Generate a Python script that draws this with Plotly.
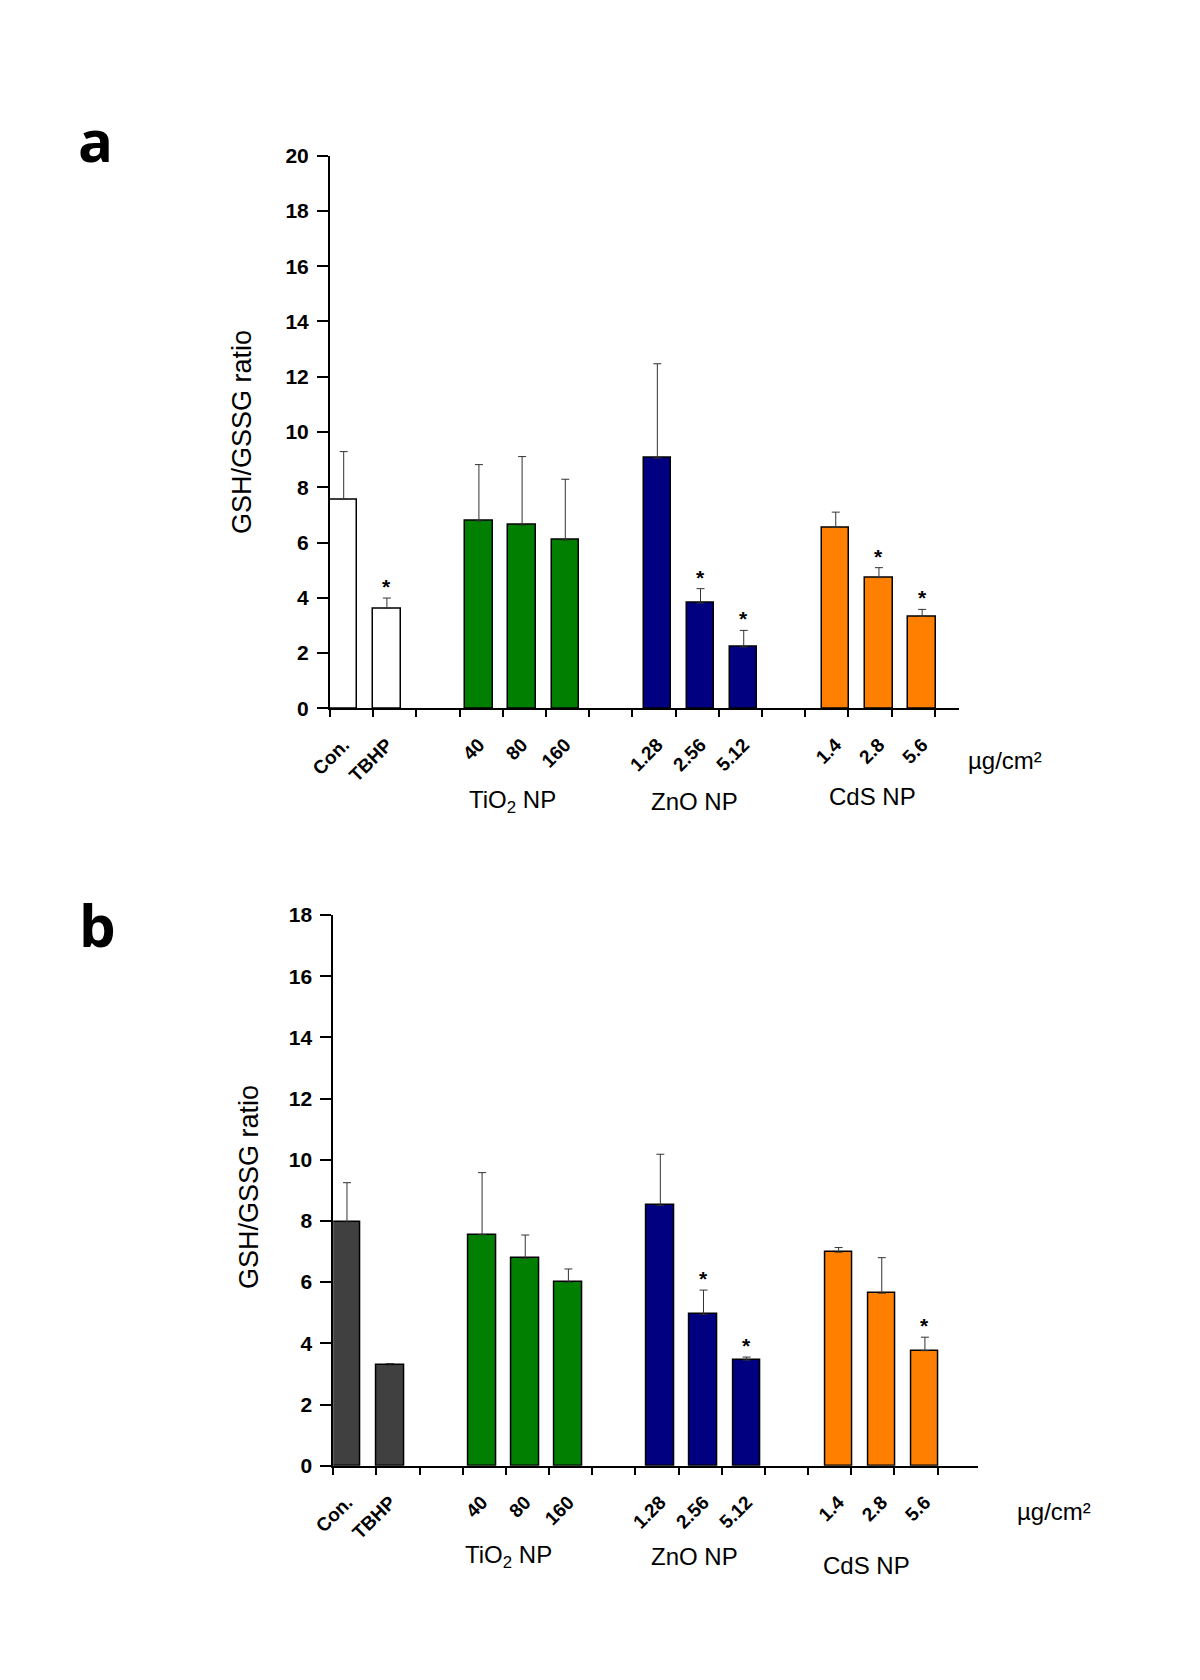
import plotly.graph_objects as go

# ---------------- data ----------------
categories = ["Con.", "TBHP", "40", "80", "160", "1.28", "2.56", "5.12", "1.4", "2.8", "5.6"]
group_of = [0, 0, 1, 1, 1, 2, 2, 2, 3, 3, 3]
group_names = ["TiO<sub>2</sub> NP", "ZnO NP", "CdS NP"]
unit_label = "µg/cm²"
y_title = "GSH/GSSG ratio"

a_mean = [7.56, 3.62, 6.78, 6.63, 6.09, 9.06, 3.81, 2.22, 6.55, 4.73, 3.33]
a_err = [1.73, 0.37, 2.04, 2.48, 2.20, 3.41, 0.52, 0.60, 0.55, 0.36, 0.25]
a_sig = [0, 1, 0, 0, 0, 0, 1, 1, 0, 1, 1]

b_mean = [7.96, 3.28, 7.55, 6.78, 6.00, 8.51, 4.95, 3.45, 6.98, 5.64, 3.76]
b_err = [1.29, 0.06, 2.03, 0.76, 0.43, 1.67, 0.79, 0.10, 0.15, 1.16, 0.44]
b_sig = [0, 0, 0, 0, 0, 0, 1, 1, 0, 0, 1]

# ---------------- styles ----------------
W, H = 1200, 1680
OFF = 8  # page body margin in front of the figure
FONT = "Liberation Sans, Arial, sans-serif"
group_colors = ["#007F00", "#000080", "#FF8000"]
control_color_a = "#FFFFFF"
control_color_b = "#404040"

# bar positions (in tick units): 1 unit per bar, extra gap between groups
x_pos = [0.317 + i + g * 1.13 for i, g in enumerate(group_of)]
bar_w = 0.636


def colors_for(control):
    return [control if g == 0 else group_colors[g - 1] for g in group_of]


def px(x):
    return (x - OFF) / W


def py(y):
    return 1 - (y - OFF) / H


panels = [
    dict(mean=a_mean, err=a_err, sig=a_sig, ctrl=control_color_a, ymax=20,
         xdom=[px(330), px(959)], ydom=[py(708.3), py(155.7)], xmax=14.56,
         xs="x", ys="y", label="a", label_pos=(95, 140), ytitle_pos=(242, 432),
         groups=[(512, 801), (694, 801), (872, 796)], unit_pos=(1005, 761)),
    dict(mean=b_mean, err=b_err, sig=b_sig, ctrl=control_color_b, ymax=18,
         xdom=[px(333.3), px(977.7)], ydom=[py(1465.7), py(915)], xmax=14.93,
         xs="x2", ys="y2", label="b", label_pos=(97, 925), ytitle_pos=(249, 1187),
         groups=[(508, 1556), (694, 1556), (866, 1565)], unit_pos=(1054, 1511)),
]

fig = go.Figure()
annotations = []

for k, p in enumerate(panels):
    fig.add_trace(go.Bar(
        x=x_pos, y=p["mean"], width=bar_w,
        marker=dict(color=colors_for(p["ctrl"]), line=dict(color="black", width=1.5)),
        error_y=dict(type="data", symmetric=False, array=p["err"],
                     arrayminus=[0] * len(p["err"]), color="#333333",
                     thickness=1, width=4),
        xaxis=p["xs"], yaxis=p["ys"], showlegend=False,
    ))
    suffix = "" if k == 0 else "2"
    fig.update_layout(**{
        "xaxis" + suffix: dict(
            domain=p["xdom"], anchor=p["ys"], range=[0, p["xmax"]], automargin=False,
            showline=True, linecolor="black", linewidth=2, showgrid=False,
            zeroline=False, tickmode="array", tickvals=x_pos, ticktext=categories,
            tickangle=-45, ticks="", ticklabelstandoff=16,
            tickfont=dict(family=FONT, size=19, color="black", weight="bold"),
            minor=dict(tickmode="array", tickvals=list(range(15)), ticks="outside",
                       ticklen=7, tickwidth=2, tickcolor="black", showgrid=False),
        ),
        "yaxis" + suffix: dict(
            domain=p["ydom"], anchor=p["xs"], range=[0, p["ymax"]], automargin=False,
            showline=True, linecolor="black", linewidth=2, showgrid=False,
            zeroline=False, tickmode="linear", tick0=0, dtick=2,
            ticks="outside", ticklen=11, tickwidth=2, tickcolor="black",
            ticklabelstandoff=4,
            tickfont=dict(family=FONT, size=21, color="black", weight="bold"),
        ),
    })
    # significance stars
    for xi, m, e, s in zip(x_pos, p["mean"], p["err"], p["sig"]):
        if s:
            annotations.append(dict(
                x=xi, y=m + e, xref=p["xs"], yref=p["ys"], text="*",
                showarrow=False, yanchor="bottom", yshift=-2,
                font=dict(family=FONT, size=21, color="black", weight="bold")))
    # y title
    annotations.append(dict(
        x=px(p["ytitle_pos"][0]), y=py(p["ytitle_pos"][1]), xref="paper", yref="paper",
        text=y_title, textangle=-90, showarrow=False, xanchor="center", yanchor="middle",
        font=dict(family=FONT, size=27, color="black")))
    # group labels
    for name, (gx, gy) in zip(group_names, p["groups"]):
        annotations.append(dict(
            x=px(gx), y=py(gy), xref="paper", yref="paper", text=name,
            showarrow=False, xanchor="center", yanchor="middle",
            font=dict(family=FONT, size=24, color="black")))
    annotations.append(dict(
        x=px(p["unit_pos"][0]), y=py(p["unit_pos"][1]), xref="paper", yref="paper",
        text=unit_label, showarrow=False, xanchor="center", yanchor="middle",
        font=dict(family=FONT, size=24, color="black")))
    # panel letter
    annotations.append(dict(
        x=px(p["label_pos"][0]), y=py(p["label_pos"][1]), xref="paper", yref="paper",
        text=p["label"], showarrow=False, xanchor="center", yanchor="middle",
        font=dict(family="Open Sans, sans-serif", size=58, color="black", weight="bold")))

fig.update_layout(
    width=W, height=H, margin=dict(l=0, r=0, t=0, b=0, autoexpand=False),
    paper_bgcolor="white", plot_bgcolor="white",
    annotations=annotations, bargap=0,
)

fig.write_html("out.html")
